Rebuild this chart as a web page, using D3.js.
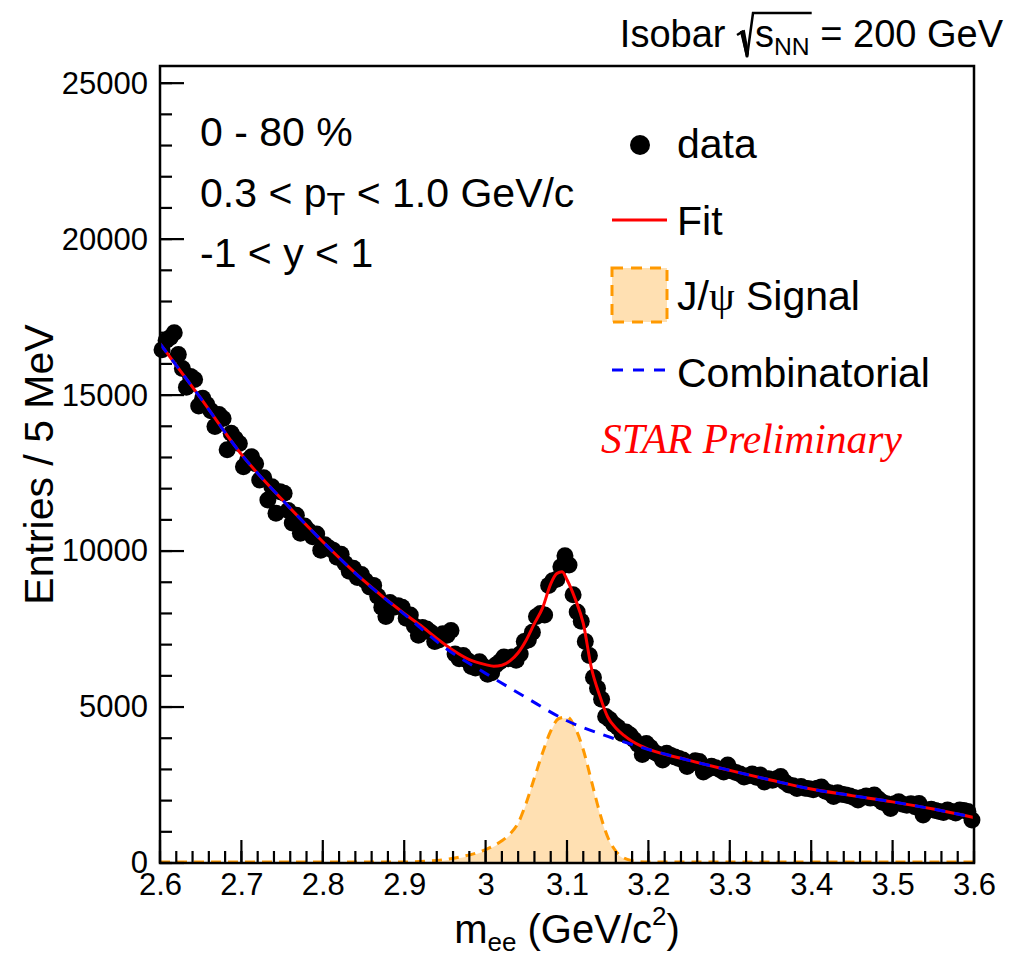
<!DOCTYPE html>
<html>
<head>
<meta charset="utf-8">
<script src="https://cdn.jsdelivr.net/npm/d3@7"></script>
<style>
  body { margin: 0; background: #fff; }
  svg { display: block; }
  text { font-family: "Liberation Sans", Arial, Helvetica, sans-serif; fill: #000; white-space: pre; }
</style>
</head>
<body>
<div id="chart"></div>
<script>
// J/psi invariant mass spectrum, isobar collisions.

// Histogram: 5 MeV bins from 2.6 to 3.6 GeV/c^2.
const binCenters = d3.range(200).map(i => +(2.6025 + 0.005 * i).toFixed(4));
const entries = [
  16450, 16750, 16850, 17000, 16300, 15850, 15250, 15600, 15500, 14650,
  14900, 14700, 14500, 13990, 14380, 14250, 13250, 13780, 13600, 13450,
  12700, 12900, 13020, 12800, 12280, 12350, 11640, 12060, 11210, 11900,
  11850, 11300, 10900, 11150, 10570, 10800, 10650, 10460, 10550, 10030,
  10200, 10100, 10030, 9800, 9900, 9600, 9350, 9450, 9150, 9250,
  9050, 8850, 8900, 8550, 8200, 7900, 8350, 8200, 8250, 8200,
  7850, 7950, 7600, 7300, 7550, 7500, 7400, 7100, 7150, 7350,
  7300, 7450, 6700, 6550, 6650, 6500, 6300, 6250, 6450, 6300,
  6050, 6100, 6350, 6450, 6600, 6550, 6600, 6500, 6700, 7100,
  7150, 7400, 7900, 8000, 7950, 8900, 9050, 9100, 9500, 9850,
  9550, 8600, 8050, 7750, 7100, 6650, 5950, 5600, 5250, 4700,
  4600, 4450, 4350, 4150, 4200, 4100, 3950, 3800, 3480, 3830,
  3700, 3550, 3480, 3300, 3520, 3450, 3400, 3350, 3300, 3090,
  3200, 3280, 3250, 2920, 3000, 3100, 3050, 3000, 2920, 3140,
  2950, 2900, 2850, 2760, 2800, 2850, 2750, 2820, 2600, 2700,
  2650, 2700, 2770, 2600, 2500, 2480, 2390, 2450, 2400, 2380,
  2350, 2400, 2440, 2300, 2250, 2130, 2250, 2200, 2180, 2150,
  2100, 2020, 2100, 2150, 2080, 2180, 2050, 1950, 1900, 1750,
  1900, 1960, 1880, 1850, 1900, 1800, 1910, 1540, 1700, 1720,
  1680, 1650, 1620, 1700, 1650, 1600, 1700, 1680, 1650, 1380
];

// Total fit (red).
const fitMass = [2.60, 2.65, 2.70, 2.75, 2.80, 2.85, 2.90, 2.92, 2.94, 2.96, 2.98, 3.00, 3.01, 3.02, 3.03, 3.04,
  3.05, 3.06, 3.07, 3.08, 3.0875, 3.094, 3.10, 3.11, 3.12, 3.13, 3.14, 3.15, 3.16, 3.17, 3.18, 3.19,
  3.20, 3.25, 3.30, 3.35, 3.40, 3.45, 3.50, 3.55, 3.60];
const fitVal = [16650, 14900, 13100, 11650, 10300, 9060, 8000, 7620, 7200, 6820, 6520, 6360, 6310, 6340, 6480, 6740,
  7150, 7680, 8180, 8950, 9280, 9340, 9080, 8470, 7680, 6250, 5380, 4680, 4330, 4090, 3900, 3760,
  3650, 3290, 2970, 2660, 2370, 2160, 1960, 1730, 1460];

// Combinatorial background (blue dashed).
const combMass = [2.60, 2.65, 2.70, 2.75, 2.80, 2.85, 2.90, 2.95, 3.00, 3.05, 3.10, 3.15, 3.20, 3.25, 3.30,
  3.35, 3.40, 3.45, 3.50, 3.55, 3.60];
const combVal = [16650, 14900, 13100, 11650, 10300, 9050, 7980, 6900, 6080, 5300, 4560, 4060, 3640, 3290, 2970,
  2660, 2370, 2160, 1960, 1730, 1460];

// J/psi signal shape (orange).
const sigMass = [2.60, 2.90, 2.93, 2.95, 2.97, 2.99, 3.00, 3.01, 3.02, 3.03, 3.04, 3.05, 3.06, 3.07, 3.08,
  3.09, 3.10, 3.11, 3.12, 3.13, 3.14, 3.15, 3.16, 3.17, 3.18, 3.19, 3.20, 3.60];
const sigVal = [0, 0, 30, 80, 170, 300, 400, 520, 680, 900, 1250, 1900, 2700, 3500, 4200,
  4600, 4650, 4300, 3600, 2600, 1600, 800, 350, 130, 40, 10, 0, 0];

// Axis ticks.
const xTicks = [2.6, 2.7, 2.8, 2.9, 3.0, 3.1, 3.2, 3.3, 3.4, 3.5, 3.6];
const yTicks = [0, 5000, 10000, 15000, 20000, 25000];
const xMinor = d3.range(2.6, 3.6001, 0.02).map(v => +v.toFixed(2));
const yMinor = d3.range(0, 25001, 1000);

const width = 1012, height = 959;
const svg = d3.select('#chart').append('svg')
  .attr('width', width)
  .attr('height', height);

const x = d3.scaleLinear().domain([2.6, 3.6]).range([160, 974]);
const y = d3.scaleLinear().domain([0, 25550]).range([863, 66]);

// Text with sub/superscripts, laid out piece by piece.
function rich(parent, px, py, size, pieces, anchor) {
  const g = parent.append('g');
  let cx = 0;
  pieces.forEach(p => {
    if (p.gap) { p.x0 = cx; cx += p.gap; p.x1 = cx; return; }
    const small = p.sub || p.sup;
    const fs = small ? size * (p.scale || 0.65) : size;
    const dy = p.sub ? size * 0.2 : p.sup ? -size * 0.45 : 0;
    const t = g.append('text')
      .attr('x', cx).attr('y', dy)
      .attr('font-size', fs)
      .attr('xml:space', 'preserve')
      .text(p.t);
    if (p.family) t.style('font-family', p.family);
    p.x0 = cx;
    cx += t.node().getComputedTextLength();
    p.x1 = cx;
  });
  const off = anchor === 'end' ? -cx : anchor === 'middle' ? -cx / 2 : 0;
  g.attr('transform', `translate(${px + off},${py})`);
  return g;
}

// Signal area.
const sigPts = sigMass.map((m, i) => [m, sigVal[i]]);
svg.append('path')
  .datum(sigPts)
  .attr('fill', 'rgba(255,153,0,0.3)')
  .attr('d', d3.area().x(d => x(d[0])).y0(y(0)).y1(d => y(d[1])).curve(d3.curveMonotoneX));
svg.append('path')
  .datum(sigPts)
  .attr('fill', 'none')
  .attr('stroke', '#ff9900')
  .attr('stroke-width', 3)
  .attr('stroke-dasharray', '10,7')
  .attr('d', d3.line().x(d => x(d[0])).y(d => y(d[1]) - 1).curve(d3.curveMonotoneX));

// Data points.
svg.append('g')
  .selectAll('circle')
  .data(binCenters.map((m, i) => [m, entries[i]]))
  .enter()
  .append('circle')
  .attr('cx', d => x(d[0]))
  .attr('cy', d => y(d[1]))
  .attr('r', 8.5)
  .attr('fill', '#000');

// Fit and background.
const line = d3.line().x(d => x(d[0])).y(d => y(d[1])).curve(d3.curveMonotoneX);
svg.append('path')
  .datum(fitMass.map((m, i) => [m, fitVal[i]]))
  .attr('fill', 'none')
  .attr('stroke', '#ff0000')
  .attr('stroke-width', 3)
  .attr('d', line);
svg.append('path')
  .datum(combMass.map((m, i) => [m, combVal[i]]))
  .attr('fill', 'none')
  .attr('stroke', '#0000ff')
  .attr('stroke-width', 3)
  .attr('stroke-dasharray', '11,9')
  .attr('d', line);

// Axis labels (tick marks drawn separately, pointing inward).
const xAxis = svg.append('g')
  .attr('transform', `translate(0,${y(0)})`)
  .call(d3.axisBottom(x).tickValues(xTicks).tickSize(0).tickPadding(10)
    .tickFormat(d => String(+d.toFixed(1))));
const yAxis = svg.append('g')
  .attr('transform', `translate(${x(2.6)},0)`)
  .call(d3.axisLeft(y).tickValues(yTicks).tickSize(0).tickPadding(12).tickFormat(d3.format('d')));
[xAxis, yAxis].forEach(a => {
  a.select('.domain').remove();
  a.selectAll('line').remove();
  a.selectAll('text').attr('font-size', 31)
    .style('font-family', '"Liberation Sans", Arial, sans-serif').attr('fill', '#000');
});
xAxis.selectAll('text').attr('dy', '0.71em');

const ticks = svg.append('g').attr('class', 'tickmarks');
function tickLines(cls, data, attrs) {
  ticks.selectAll('line.' + cls).data(data).enter().append('line')
    .attr('class', cls)
    .attr('x1', attrs.x1).attr('x2', attrs.x2)
    .attr('y1', attrs.y1).attr('y2', attrs.y2)
    .style('stroke', '#000')
    .style('stroke-width', '2.2px');
}
tickLines('xminor', xMinor, {x1: d => x(d), x2: d => x(d), y1: y(0), y2: y(0) - 12});
tickLines('xmajor', xTicks, {x1: d => x(d), x2: d => x(d), y1: y(0), y2: y(0) - 23});
tickLines('yminor', yMinor, {x1: x(2.6), x2: x(2.6) + 12, y1: d => y(d), y2: d => y(d)});
tickLines('ymajor', yTicks, {x1: x(2.6), x2: x(2.6) + 24, y1: d => y(d), y2: d => y(d)});

// Frame.
svg.append('rect')
  .attr('x', x(2.6)).attr('y', 66)
  .attr('width', x(3.6) - x(2.6)).attr('height', y(0) - 66)
  .attr('fill', 'none')
  .attr('stroke', '#000')
  .attr('stroke-width', 2.5);

// Axis titles.
rich(svg, (x(2.6) + x(3.6)) / 2, 943, 40,
  [{t: 'm'}, {t: 'ee', sub: true}, {t: ' (GeV/c'}, {t: '2', sup: true}, {t: ')'}], 'middle');
svg.append('text')
  .attr('transform', `translate(53,${(66 + y(0)) / 2}) rotate(-90)`)
  .attr('text-anchor', 'middle')
  .attr('font-size', 41)
  .text('Entries / 5 MeV');

// Title with square root.
const titlePieces = [{t: 'Isobar '}, {gap: 19}, {t: 's'}, {t: 'NN', sub: true}, {t: ' = 200 GeV'}];
const titleG = rich(svg, 1003, 47, 38, titlePieces, 'end');
const r0 = titlePieces[1].x0, r1 = titlePieces[3].x1 + 2;
titleG.append('path')
  .attr('d', `M${r0 + 1},${-12} L${r0 + 6},${-15} L${r0 + 11},${10} L${r0 + 17},${-34} L${r1},${-34}`)
  .attr('fill', 'none')
  .attr('stroke', '#000')
  .attr('stroke-width', 2.5)
  .attr('stroke-linejoin', 'miter');
titleG.append('path')
  .attr('d', `M${r0 + 5},${-15} L${r0 + 8},${-16} L${r0 + 12},${6} L${r0 + 11},${10} Z`)
  .attr('fill', '#000')
  .attr('stroke', '#000')
  .attr('stroke-width', 2);

// Selection text.
rich(svg, 200, 146, 41, [{t: '0 - 80 %'}], 'start');
rich(svg, 200, 207, 41, [{t: '0.3 < p'}, {t: 'T', sub: true, scale: 0.75}, {t: ' < 1.0 GeV/c'}], 'start');
rich(svg, 200, 267, 41, [{t: '-1 < y < 1'}], 'start');

// Legend.
const lx0 = 612, lx1 = 667, tx = 677;
svg.append('circle').attr('cx', 640).attr('cy', 145).attr('r', 10).attr('fill', '#000');
rich(svg, tx, 158, 41, [{t: 'data'}], 'start');

svg.append('line').attr('x1', lx0).attr('x2', lx1).attr('y1', 220).attr('y2', 220)
  .attr('stroke', '#ff0000').attr('stroke-width', 3);
rich(svg, tx, 235, 41, [{t: 'Fit'}], 'start');

svg.append('rect').attr('x', lx0).attr('y', 268).attr('width', lx1 - lx0).attr('height', 54)
  .attr('fill', 'rgba(255,153,0,0.3)')
  .attr('stroke', '#ff9900').attr('stroke-width', 3).attr('stroke-dasharray', '11,8');
rich(svg, tx, 310, 41, [{t: 'J/'}, {t: 'ψ', family: '"Liberation Serif", serif'}, {t: ' Signal'}], 'start');

svg.append('line').attr('x1', lx0).attr('x2', lx1).attr('y1', 370).attr('y2', 370)
  .attr('stroke', '#0000ff').attr('stroke-width', 3).attr('stroke-dasharray', '11,10');
rich(svg, tx, 387, 41, [{t: 'Combinatorial'}], 'start');

svg.append('text')
  .attr('x', 601).attr('y', 453)
  .attr('font-size', 41.5)
  .style('font-family', '"Liberation Serif", "Times New Roman", serif')
  .style('font-style', 'italic')
  .style('fill', '#ff0000')
  .text('STAR Preliminary');
</script>
</body>
</html>
